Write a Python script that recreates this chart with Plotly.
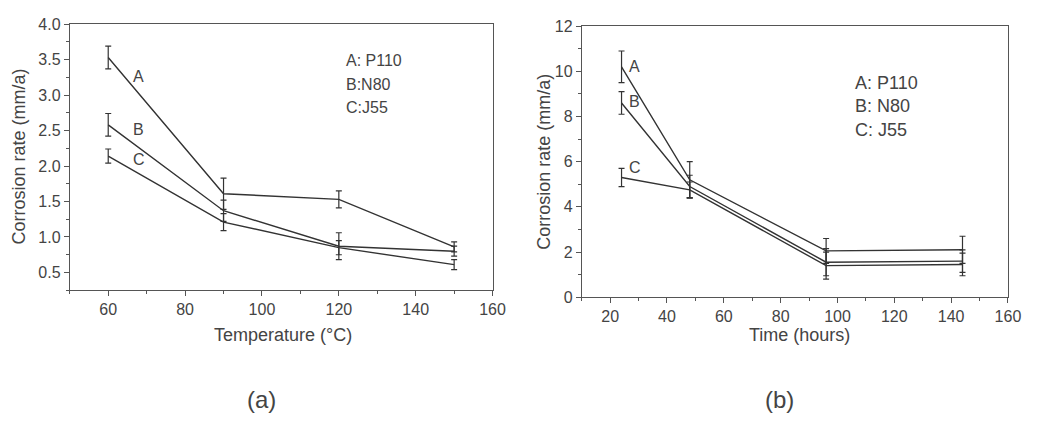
import plotly.graph_objects as go

# ---- data: panel (a) ----
temp = [60, 90, 120, 150]
a_A = [3.53, 1.61, 1.53, 0.86]
a_A_err = [0.16, 0.22, 0.12, 0.07]
a_B = [2.58, 1.37, 0.87, 0.80]
a_B_err = [0.16, 0.15, 0.19, 0.07]
a_C = [2.14, 1.21, 0.85, 0.61]
a_C_err = [0.10, 0.12, 0.10, 0.07]

# ---- data: panel (b) ----
hours = [24, 48, 96, 144]
b_A = [10.2, 5.2, 2.05, 2.1]
b_A_err = [0.7, 0.8, 0.55, 0.6]
b_B = [8.6, 4.9, 1.55, 1.6]
b_B_err = [0.5, 0.5, 0.6, 0.5]
b_C = [5.3, 4.75, 1.4, 1.45]
b_C_err = [0.4, 0.35, 0.6, 0.5]

series_names = ["A", "B", "C"]
legend_a = ["A: P110", "B:N80", "C:J55"]
legend_b = ["A: P110", "B: N80", "C: J55"]

LINE = "#333333"
TXT = "#444444"
FONT = "Liberation Sans, Arial, sans-serif"

fig = go.Figure()

def add_series(x, y, err, xa, ya):
    fig.add_trace(go.Scatter(
        x=x, y=y, mode="lines", xaxis=xa, yaxis=ya,
        line=dict(color=LINE, width=1.4),
        error_y=dict(type="data", array=err, visible=True, color=LINE, thickness=1.2, width=3),
        showlegend=False, hoverinfo="skip"))

for y, e in [(a_A, a_A_err), (a_B, a_B_err), (a_C, a_C_err)]:
    add_series(temp, y, e, "x", "y")
for y, e in [(b_A, b_A_err), (b_B, b_B_err), (b_C, b_C_err)]:
    add_series(hours, y, e, "x2", "y2")

axis_common = dict(
    showline=True, linecolor="#555555", linewidth=1, mirror=True,
    ticks="outside", ticklen=5, tickcolor="#555555", tickwidth=1,
    showgrid=False, zeroline=False,
    tickfont=dict(family=FONT, size=16, color=TXT),
)

fig.update_layout(
    width=1050, height=429,
    margin=dict(l=0, r=0, t=0, b=0),
    paper_bgcolor="white", plot_bgcolor="white",
    xaxis=dict(domain=[0.0673, 0.475], range=[50, 160], tick0=60, dtick=20, anchor="y",
               minor=dict(ticks="outside", ticklen=3, dtick=10, tickcolor="#555555"), **axis_common),
    yaxis=dict(domain=[0.315, 0.961], range=[0.25, 4.0], tick0=0.5, dtick=0.5, tickformat=".1f",
               anchor="x", minor=dict(ticks="outside", ticklen=3, dtick=0.25, tickcolor="#555555"),
               **axis_common),
    xaxis2=dict(domain=[0.561, 0.972], range=[10, 160], tick0=20, dtick=20, anchor="y2",
                minor=dict(ticks="outside", ticklen=3, dtick=10, tickcolor="#555555"), **axis_common),
    yaxis2=dict(domain=[0.298, 0.956], range=[0, 12], tick0=0, dtick=2, anchor="x2",
                minor=dict(ticks="outside", ticklen=3, dtick=1, tickcolor="#555555"), **axis_common),
)

ann = []
# axis titles
ann.append(dict(text="Temperature (°C)", x=287, y=340))
ann.append(dict(text="Time (hours)", x=810, y=340))
ann.append(dict(text="Corrosion rate (mm/a)", x=19, y=155, textangle=-90))
ann.append(dict(text="Corrosion rate (mm/a)", x=550, y=160, textangle=-90))
ann.append(dict(text="(a)", x=265, y=408, size=24))
ann.append(dict(text="(b)", x=789, y=408, size=24))

annotations = []
for a in ann:
    annotations.append(dict(
        text=a["text"], xref="paper", yref="paper",
        x=a["x"] / 1050, y=1 - a["y"] / 429, xanchor="center", yanchor="middle",
        textangle=a.get("textangle", 0), showarrow=False,
        font=dict(family=FONT, size=a.get("size", 18), color=TXT)))

# legend-like text blocks
for i, t in enumerate(legend_a):
    annotations.append(dict(text=t, xref="paper", yref="paper", x=348 / 1050, y=1 - (55 + 24.5 * i) / 429,
                            xanchor="left", yanchor="middle", showarrow=False,
                            font=dict(family=FONT, size=16, color=TXT)))
for i, t in enumerate(legend_b):
    annotations.append(dict(text=t, xref="paper", yref="paper", x=864 / 1050, y=1 - (78 + 24.5 * i) / 429,
                            xanchor="left", yanchor="middle", showarrow=False,
                            font=dict(family=FONT, size=18, color=TXT)))

# curve labels
lab_a_x = [68, 68, 68]
lab_a_y = [3.26, 2.51, 2.09]
lab_b_x = [28.7, 28.7, 28.7]
lab_b_y = [10.2, 8.65, 5.74]
for n, xx, yy in zip(series_names, lab_a_x, lab_a_y):
    annotations.append(dict(text=n, xref="x", yref="y", x=xx, y=yy, showarrow=False,
                            font=dict(family=FONT, size=16, color=TXT)))
for n, xx, yy in zip(series_names, lab_b_x, lab_b_y):
    annotations.append(dict(text=n, xref="x2", yref="y2", x=xx, y=yy, showarrow=False,
                            font=dict(family=FONT, size=16, color=TXT)))

fig.update_layout(annotations=annotations)
fig.write_html("out.html")
